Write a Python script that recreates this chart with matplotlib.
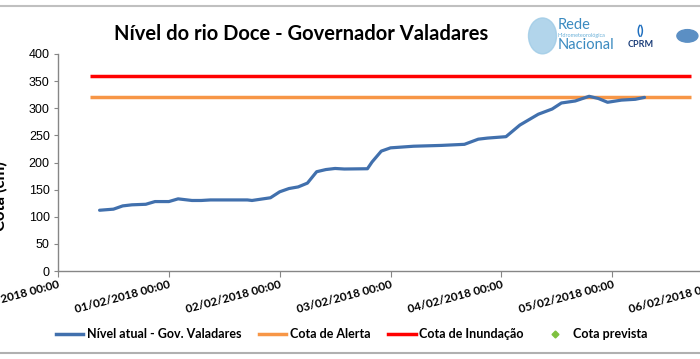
import numpy as np
import pandas as pd
import matplotlib.pyplot as plt
import matplotlib.dates as mdates
from matplotlib.lines import Line2D
from matplotlib.patches import Ellipse

# observed level, hours after 31/01/2018 00:00 and level in cm
hours = [9, 12, 14, 16, 19, 21, 24, 26, 29, 31, 33, 41, 42, 46, 48, 50, 52, 54,
         56, 58, 60, 62, 67, 68, 70, 72, 77, 83, 88, 91, 93, 97, 100, 104, 107,
         109, 112, 115, 117, 119, 122, 125, 127]
nivel = [112, 114, 120, 122, 123, 128, 128, 133, 130, 130, 131, 131, 130, 135,
         146, 152, 155, 162, 183, 187, 189, 188, 188.5, 201, 221, 227, 230,
         231.5, 233.5, 243, 245, 247.6, 269, 289, 298.6, 309.7, 313.4, 322,
         318, 311, 315, 316.5, 320]

# reference levels (cm) and the span they are drawn over (hours)
cota_alerta = 320
cota_inundacao = 360
ref_hours = [7, 137]

start = pd.Timestamp('2018-01-31 00:00')
t = start + pd.to_timedelta(hours, unit='h')
t_ref = start + pd.to_timedelta(ref_hours, unit='h')

plt.rcParams['font.family'] = ['Lato', 'DejaVu Sans']

fig = plt.figure(figsize=(7, 3.59), dpi=100)
ax = fig.add_axes([0.0829, 0.2451, 0.95, 0.6045])

ax.plot(t_ref, [cota_inundacao] * 2, color='#ff0000', lw=2.5,
        solid_capstyle='butt', label='Cota de Inundação')
ax.plot(t_ref, [cota_alerta] * 2, color='#f79646', lw=2.5,
        solid_capstyle='butt', label='Cota de Alerta')
ax.plot(t, nivel, color='#4170ad', lw=2.3, solid_capstyle='round',
        solid_joinstyle='round', label='Nível atual - Gov. Valadares')

ax.set_ylim(0, 400)
ax.set_yticks(np.arange(0, 401, 50))
ax.set_xlim(start, start + pd.Timedelta(days=6))
ax.xaxis.set_major_locator(mdates.DayLocator())
ax.xaxis.set_major_formatter(mdates.DateFormatter('%d/%m/%Y %H:%M'))

for s in ['top', 'right']:
    ax.spines[s].set_visible(False)
for s in ['left', 'bottom']:
    ax.spines[s].set_color('#868686')
    ax.spines[s].set_linewidth(1)
ax.tick_params(axis='y', length=3, color='#868686', labelsize=9, pad=3)
ax.tick_params(axis='x', length=4, color='#868686', labelsize=8.5, pad=2)
for lab in ax.get_yticklabels():
    lab.set_family(['Liberation Sans'])
for lab in ax.get_xticklabels():
    lab.set_rotation(15)
    lab.set_ha('right')
    lab.set_rotation_mode('anchor')
    lab.set_fontweight('bold')

fig.text(0.0, 0.4535, 'Cota (cm)', rotation=90, ha='center', va='center',
         fontsize=12, fontweight='bold')
fig.text(0.43, 0.905, 'Nível do rio Doce - Governador Valadares', ha='center',
         va='center', fontsize=14.5, fontweight='bold')

# logos
fig.add_artist(Ellipse((0.775, 0.9), 0.04, 0.1, color='#9fcbe6', alpha=0.8))
fig.text(0.797, 0.93, 'Rede', fontsize=10.5, color='#3a8ac0', ha='left', va='center')
fig.text(0.797, 0.902, 'Hidrometeorológica', fontsize=4, color='#6ab0d8', ha='left', va='center')
fig.text(0.797, 0.876, 'Nacional', fontsize=10.5, color='#3a8ac0', ha='left', va='center')
fig.text(0.915, 0.875, 'CPRM', fontsize=6.5, fontweight='bold', color='#1d3f7a', ha='center', va='center')
fig.text(0.915, 0.915, '()', fontsize=10, fontweight='bold', color='#1f6fbf', ha='center', va='center')
fig.add_artist(Ellipse((0.982, 0.9), 0.03, 0.035, color='#5b8fc4'))

# gray frame lines
fig.add_artist(Line2D([0, 1], [1 - 6 / 359] * 2, color='#c0c0c0', lw=1.5))
fig.add_artist(Line2D([0, 1], [1 - 353 / 359] * 2, color='#b0b0b0', lw=1.5))

handles = [
    Line2D([], [], color='#4170ad', lw=2.5),
    Line2D([], [], color='#f79646', lw=2.5),
    Line2D([], [], color='#ff0000', lw=2.5),
    Line2D([], [], color='#7ec13f', marker='D', ls='', markersize=3.5),
]
labels = ['Nível atual - Gov. Valadares', 'Cota de Alerta', 'Cota de Inundação', 'Cota prevista']
fig.legend(handles, labels, loc='center', bbox_to_anchor=(0.502, 1 - 334 / 359),
           ncol=4, frameon=False, prop={'weight': 'bold', 'size': 9},
           handlelength=2.2, handletextpad=0.3, columnspacing=1.4)

fig.savefig('out.png', dpi=100)
